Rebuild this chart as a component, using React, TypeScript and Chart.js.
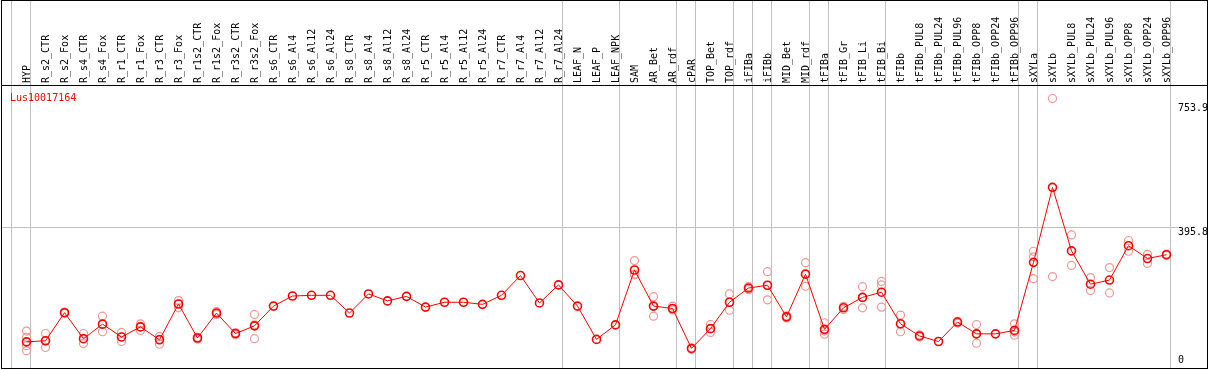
import React, { useEffect, useRef } from 'react';
import { Chart, registerables } from 'chart.js';

Chart.register(...registerables);

const geneName = 'Lus10017164';

const categories = [
  'HYP', 'R_s2_CTR', 'R_s2_Fox', 'R_s4_CTR', 'R_s4_Fox', 'R_r1_CTR', 'R_r1_Fox', 'R_r3_CTR', 'R_r3_Fox',
  'R_r1s2_CTR', 'R_r1s2_Fox', 'R_r3s2_CTR', 'R_r3s2_Fox', 'R_s6_CTR', 'R_s6_Al4', 'R_s6_Al12', 'R_s6_Al24',
  'R_s8_CTR', 'R_s8_Al4', 'R_s8_Al12', 'R_s8_Al24', 'R_r5_CTR', 'R_r5_Al4', 'R_r5_Al12', 'R_r5_Al24',
  'R_r7_CTR', 'R_r7_Al4', 'R_r7_Al12', 'R_r7_Al24', 'LEAF_N', 'LEAF_P', 'LEAF_NPK', 'SAM', 'AR_Bet', 'AR_rdf',
  'cPAR', 'TOP_Bet', 'TOP_rdf', 'iFIBa', 'iFIBb', 'MID_Bet', 'MID_rdf', 'tFIBa', 'tFIB_Gr', 'tFIB_Li', 'tFIB_Bi',
  'tFIBb', 'tFIBb_PUL8', 'tFIBb_PUL24', 'tFIBb_PUL96', 'tFIBb_OPP8', 'tFIBb_OPP24', 'tFIBb_OPP96', 'sXYLa',
  'sXYLb', 'sXYLb_PUL8', 'sXYLb_PUL24', 'sXYLb_PUL96', 'sXYLb_OPP8', 'sXYLb_OPP24', 'sXYLb_OPP96',
];

const meanValues = [
  65, 68, 149, 74, 116, 79, 108, 71, 174, 76, 148, 89, 111, 168, 197, 199, 199, 148, 203, 183, 196,
  165, 179, 179, 173, 199, 256, 177, 229, 168, 72, 114, 272, 168, 161, 46, 103, 179, 220, 228, 137,
  260, 101, 163, 193, 208, 117, 82, 66, 122, 88, 88, 98, 294, 510, 327, 231, 243, 342, 305, 316,
];

const replicateValues = [
  [96, 78, 54, 39], [89, 68, 49], [151, 147], [89, 74, 60], [139, 116, 94], [92, 79, 66], [117, 108, 98],
  [81, 72, 58], [184, 174, 163], [78, 73], [152, 144], [91, 86], [144, 114, 74],
  [], [], [], [], [], [], [], [], [], [], [], [], [], [], [], [], [], [], [],
  [299, 260, 258], [195, 168, 139], [168, 161, 157], [48, 44], [115, 103, 92], [203, 179, 156], [224, 216],
  [267, 228, 186], [140, 134], [293, 260, 225], [120, 96, 87], [167, 158], [224, 193, 163], [239, 229, 165],
  [142, 117, 94], [85, 79], [], [124, 119], [115, 88, 61], [], [117, 93, 84], [326, 310, 247], [766, 253],
  [373, 285], [250, 213], [279, 206], [357, 326], [317, 291], [318, 314],
];

const groupBoundaries = [-1, 0, 28, 31, 34, 35, 37, 38, 39, 41, 42, 45, 52, 53, 60];
const yTickValues = [0, 395.8, 753.9];
const yGridValues = [395.8];
const yMax = 753.9;

const W = 1209;
const H = 370;
const MONO = 'DejaVu Sans Mono';

const decorPlugin = {
  id: 'decor',
  beforeDraw(chart: any) {
    const ctx = chart.ctx;
    ctx.save();
    ctx.fillStyle = '#ffffff';
    ctx.fillRect(0, 0, W, H);
    ctx.restore();
  },
  beforeDatasetsDraw(chart: any) {
    const ctx = chart.ctx;
    const xs = chart.scales.x;
    const ys = chart.scales.y;
    ctx.save();
    ctx.strokeStyle = '#c0c0c0';
    ctx.lineWidth = 1;
    groupBoundaries.forEach((k) => {
      const x = Math.floor(xs.getPixelForValue(k) + 4) + 0.5;
      ctx.beginPath();
      ctx.moveTo(x, 0);
      ctx.lineTo(x, 369);
      ctx.stroke();
    });
    yGridValues.forEach((v) => {
      const y = Math.round(ys.getPixelForValue(v)) + 0.5;
      ctx.beginPath();
      ctx.moveTo(1, y);
      ctx.lineTo(1178, y);
      ctx.stroke();
    });
    ctx.restore();
  },
  afterDatasetsDraw(chart: any) {
    const ctx = chart.ctx;
    const xs = chart.scales.x;
    const ys = chart.scales.y;
    ctx.save();
    ctx.strokeStyle = '#000000';
    ctx.lineWidth = 1;
    ctx.strokeRect(1.5, 0.5, 1206, 368);
    ctx.beginPath();
    ctx.moveTo(1, 85.5);
    ctx.lineTo(1208, 85.5);
    ctx.stroke();

    ctx.fillStyle = '#000000';
    ctx.font = `10px "${MONO}"`;
    ctx.textAlign = 'left';
    ctx.textBaseline = 'alphabetic';
    categories.forEach((c, i) => {
      const x = xs.getPixelForValue(i);
      ctx.save();
      ctx.translate(x + 3, 83);
      ctx.rotate(-Math.PI / 2);
      ctx.fillText(c, 0, 0);
      ctx.restore();
    });

    ctx.fillStyle = '#ff0000';
    ctx.fillText(geneName, 10, 101);

    ctx.fillStyle = '#000000';
    yTickValues.forEach((v) => {
      const y = ys.getPixelForValue(v);
      const text = v === 0 ? '0' : String(v);
      const base = v === 0 ? y - 1.5 : y + 8;
      ctx.fillText(text, 1178, base);
    });
    ctx.restore();
  },
};

export default function App() {
  const ref = useRef<HTMLCanvasElement | null>(null);

  useEffect(() => {
    document.body.style.margin = '0';
    const canvas = ref.current;
    if (!canvas) return;
    const repPoints: { x: string; y: number }[] = [];
    replicateValues.forEach((reps, i) => {
      reps.forEach((v) => repPoints.push({ x: categories[i], y: v }));
    });
    const chart = new Chart(canvas, {
      type: 'line',
      data: {
        labels: categories,
        datasets: [
          {
            label: 'mean',
            data: meanValues,
            borderColor: '#ff0000',
            borderWidth: 1,
            pointRadius: 4,
            pointBorderWidth: 1.6,
            pointBorderColor: '#ff0000',
            pointBackgroundColor: 'rgba(0,0,0,0)',
            fill: false,
            tension: 0,
            order: 1,
            clip: false,
          } as any,
          {
            label: 'replicates',
            data: repPoints as any,
            showLine: false,
            borderColor: 'rgba(0,0,0,0)',
            pointRadius: 4,
            pointBorderWidth: 1.2,
            pointBorderColor: 'rgb(240,150,150)',
            pointBackgroundColor: 'rgba(0,0,0,0)',
            order: 2,
            clip: false,
          } as any,
        ],
      },
      options: {
        responsive: false,
        animation: false,
        events: [],
        layout: { padding: { left: 26.5, right: W - 1166.5, top: 102.7, bottom: H - 367.1 } },
        scales: {
          x: { type: 'category', display: false, offset: false },
          y: { type: 'linear', display: false, min: 0, max: yMax },
        },
        plugins: { legend: { display: false }, tooltip: { enabled: false } },
      },
      plugins: [decorPlugin],
    });
    return () => chart.destroy();
  }, []);

  return (
    <div style={{ width: W, height: H }}>
      <canvas ref={ref} width={W} height={H} style={{ display: 'block', width: W, height: H }} />
    </div>
  );
}
